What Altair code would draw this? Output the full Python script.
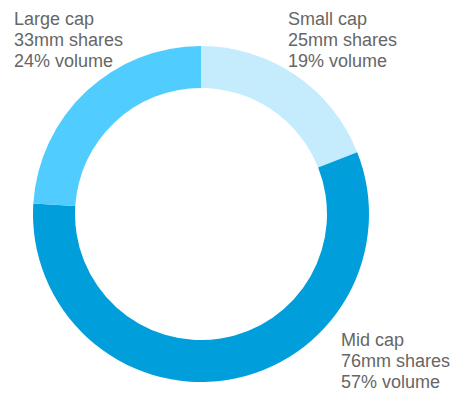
import altair as alt
import pandas as pd

categories = ["Small cap", "Mid cap", "Large cap"]
shares_mm = [25, 76, 33]
volume_pct = [19, 57, 24]
colors = ["#C4ECFD", "#009FDB", "#50CDFE"]

df = pd.DataFrame({
    "category": categories,
    "shares": shares_mm,
    "volume": volume_pct,
    "order": [0, 1, 2],
})
df["label"] = df.apply(
    lambda r: f"{r['category']}\n{r['shares']}mm shares\n{r['volume']}% volume", axis=1
)

cx, cy = 193, 206

arc = alt.Chart(df).mark_arc(radius=168, radius2=126, stroke=None).encode(
    theta=alt.Theta("volume:Q", stack=True),
    order=alt.Order("order:Q"),
    color=alt.Color("category:N", scale=alt.Scale(domain=categories, range=colors), legend=None),
    x=alt.value(cx),
    y=alt.value(cy),
)

label_pos = {"Large cap": (6, 17), "Small cap": (280, 17), "Mid cap": (333, 338)}

texts = []
for cat, (tx, ty) in label_pos.items():
    t = alt.Chart(df).transform_filter(alt.datum.category == cat).mark_text(
        align="left", baseline="alphabetic", fontSize=18, font="Liberation Sans",
        color="#666666", lineBreak="\n", lineHeight=21,
    ).encode(text="label:N", x=alt.value(tx), y=alt.value(ty))
    texts.append(t)

chart = alt.layer(arc, *texts).properties(
    width=451, height=384, padding=0, autosize=alt.AutoSizeParams(type="none")
).configure_view(stroke=None)

chart.save("out.html", embed_options={"renderer": "svg", "actions": False})
